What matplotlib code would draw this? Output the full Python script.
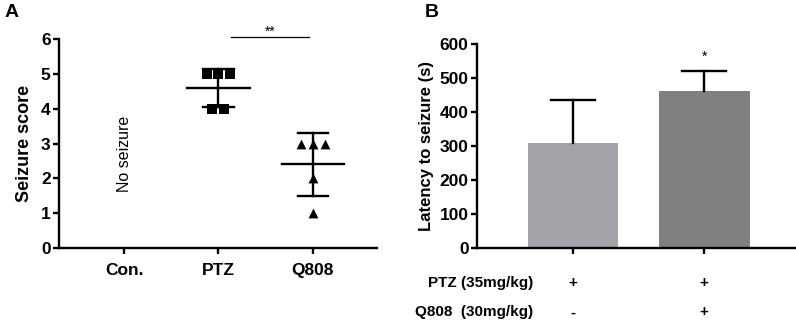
import numpy as np
import matplotlib
matplotlib.use("Agg")
import matplotlib.pyplot as plt

plt.rcParams['font.family'] = ['Liberation Sans', 'DejaVu Sans']
plt.rcParams['font.weight'] = 'bold'

# Panel A data
groups_a = ["Con.", "PTZ", "Q808"]
ptz_scores = [5, 5, 5, 4, 4]
ptz_offsets = [-0.12, 0.0, 0.12, -0.065, 0.06]
q808_scores = [3, 3, 3, 2, 1]
q808_offsets = [-0.13, 0.0, 0.13, 0.0, 0.0]

# Panel B data
bar_values = [308, 462]
bar_errors = [128, 58]
bar_colors = ["#A4A3AA", "#808080"]
ptz_row = ["+", "+"]
q808_row = ["-", "+"]

fig = plt.figure(figsize=(7.96, 3.21), dpi=100)

TICK_FS = 12.5
LW = 1.7

# ---------- Panel A ----------
axA = fig.add_axes([0.0741, 0.2274, 0.3995, 0.6511])
for sp in ['top', 'right']:
    axA.spines[sp].set_visible(False)
for sp in ['left', 'bottom']:
    axA.spines[sp].set_linewidth(LW)

def scatter_group(ax, xc, vals, offs, marker, ms):
    xs = [xc + o for o in offs]
    ax.scatter(xs, vals, marker=marker, s=ms, color='black', zorder=3, linewidths=0)
    m = np.mean(vals)
    sd = np.std(vals, ddof=1)
    ax.plot([xc - 0.33, xc + 0.33], [m, m], color='black', lw=LW, zorder=4)
    ax.plot([xc, xc], [m - sd, m + sd], color='black', lw=LW, zorder=4)
    ax.plot([xc - 0.16, xc + 0.16], [m - sd, m - sd], color='black', lw=LW, zorder=4)
    ax.plot([xc - 0.16, xc + 0.16], [m + sd, m + sd], color='black', lw=LW, zorder=4)

scatter_group(axA, 1, ptz_scores, ptz_offsets, 's', 58)
scatter_group(axA, 2, q808_scores, q808_offsets, '^', 50)

axA.set_xlim(-0.69, 2.68)
axA.set_ylim(0, 6)
axA.set_xticks([0, 1, 2])
axA.set_xticklabels(groups_a, fontsize=TICK_FS, fontweight='bold')
axA.set_yticks(range(0, 7))
axA.tick_params(axis='both', width=LW, length=4, labelsize=TICK_FS)
axA.tick_params(axis='y', pad=2)
axA.tick_params(axis='x', pad=7)
for lab in axA.get_yticklabels():
    lab.set_fontweight('bold')
axA.set_ylabel("Seizure score", fontsize=13, fontweight='bold', labelpad=6)
axA.text(0, 2.7, "No seizure", rotation=90, ha='center', va='center',
         fontsize=11.5, fontweight='normal')
axA.plot([1.13, 1.96], [6.05, 6.05], color='black', lw=0.9, clip_on=False)
axA.text(1.55, 6.2, "**", ha='center', va='center', fontsize=10, fontweight='normal')

fig.text(0.006, 0.96, "A", fontsize=14, fontweight='bold', va='center', ha='left')

# ---------- Panel B ----------
axB = fig.add_axes([0.5992, 0.2274, 0.3995, 0.6355])
for sp in ['top', 'right']:
    axB.spines[sp].set_visible(False)
for sp in ['left', 'bottom']:
    axB.spines[sp].set_linewidth(LW)

xpos = [0, 1]
axB.bar(xpos, bar_values, width=0.69, color=bar_colors, zorder=2)
for x, v, e in zip(xpos, bar_values, bar_errors):
    axB.plot([x, x], [v, v + e], color='black', lw=LW, zorder=3)
    axB.plot([x - 0.168, x + 0.168], [v + e, v + e], color='black', lw=LW, zorder=3)
axB.text(1.0, 562, "*", ha='center', va='center', fontsize=10, fontweight='normal')

axB.set_xlim(-0.73, 1.69)
axB.set_ylim(0, 600)
axB.set_yticks(range(0, 601, 100))
axB.set_xticks(xpos)
axB.set_xticklabels([])
axB.tick_params(axis='both', width=LW, length=4, labelsize=TICK_FS)
axB.tick_params(axis='y', pad=2)
for lab in axB.get_yticklabels():
    lab.set_fontweight('bold')
axB.set_ylabel("Latency to seizure (s)", fontsize=12, fontweight='bold', labelpad=4)

trans = axB.get_xaxis_transform()
ROW_FS = 11
axB.text(-0.3, -0.17, "PTZ (35mg/kg)", transform=trans, ha='right', va='center',
         fontsize=ROW_FS, fontweight='bold', clip_on=False)
axB.text(-0.3, -0.315, "Q808  (30mg/kg)", transform=trans, ha='right', va='center',
         fontsize=ROW_FS, fontweight='bold', clip_on=False)
for x, p, q in zip(xpos, ptz_row, q808_row):
    axB.text(x, -0.17, p, transform=trans, ha='center', va='center', fontsize=ROW_FS, fontweight='bold')
    axB.text(x, -0.315, q, transform=trans, ha='center', va='center', fontsize=ROW_FS, fontweight='bold')

fig.text(0.533, 0.96, "B", fontsize=14, fontweight='bold', va='center', ha='left')

fig.savefig("out.png", dpi=100)
